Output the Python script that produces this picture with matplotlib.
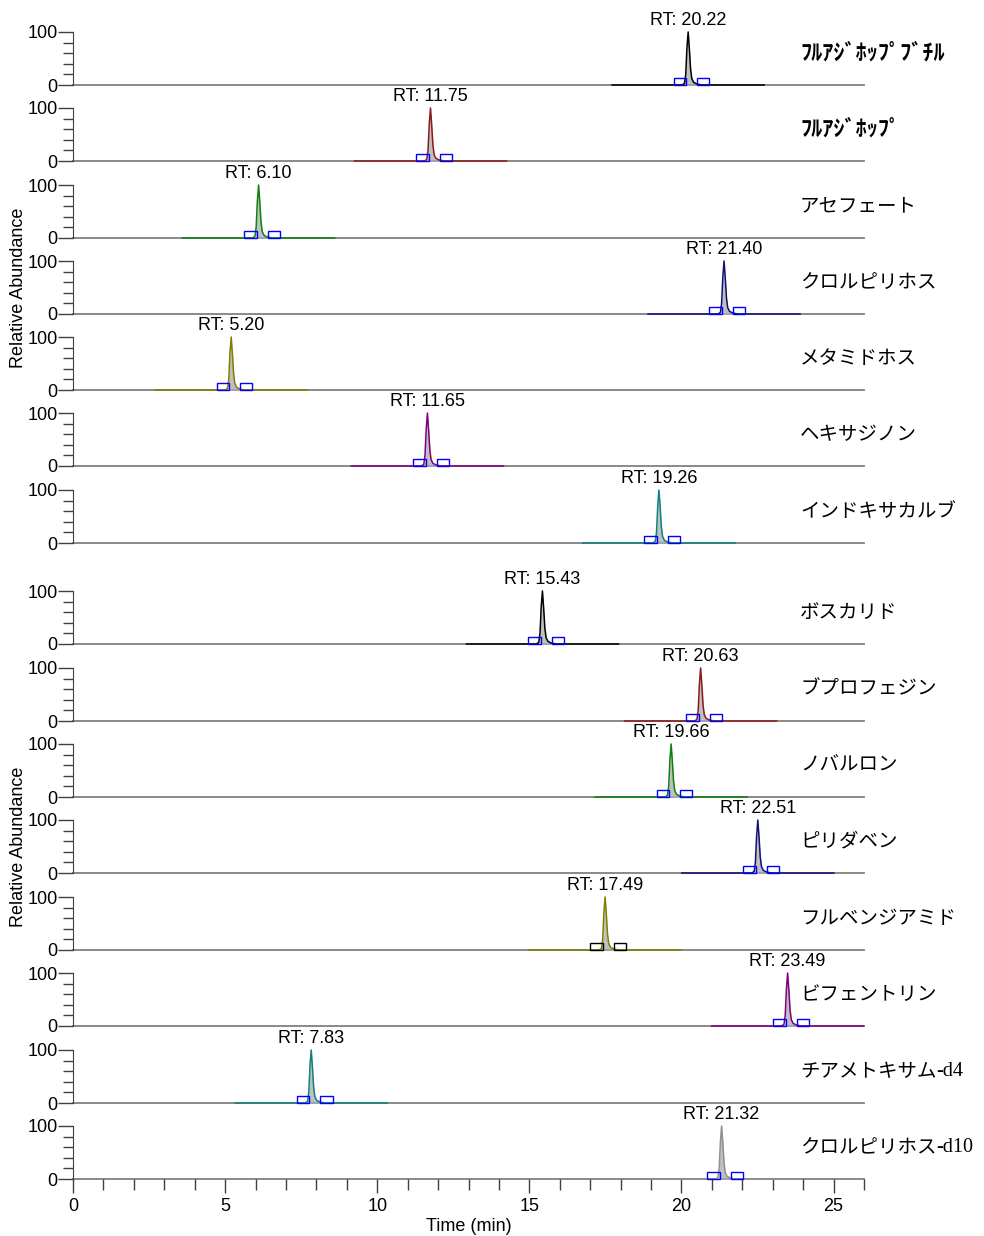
import matplotlib
matplotlib.use("Agg")
import matplotlib.pyplot as plt
from matplotlib.patches import Rectangle
from matplotlib.ticker import MultipleLocator

# ---------------------------------------------------------------------------
# Data
# ---------------------------------------------------------------------------
compounds = [
    "ﾌﾙｱｼﾞﾎｯﾌﾟﾌﾞﾁﾙ", "ﾌﾙｱｼﾞﾎｯﾌﾟ", "アセフェート", "クロルピリホス", "メタミドホス",
    "ヘキサジノン", "インドキサカルブ",
    "ボスカリド", "ブプロフェジン", "ノバルロン", "ピリダベン", "フルベンジアミド",
    "ビフェントリン", "チアメトキサム", "クロルピリホス",
]
suffixes = ["", "", "", "", "", "", "", "", "", "", "", "", "", "-d4", "-d10"]
retention_times = [20.22, 11.75, 6.10, 21.40, 5.20, 11.65, 19.26,
                   15.43, 20.63, 19.66, 22.51, 17.49, 23.49, 7.83, 21.32]
trace_colors = ["#000000", "#8b1a1a", "#108010", "#10107a", "#808000", "#800080", "#108080",
                "#000000", "#8b1a1a", "#108010", "#10107a", "#808000", "#800080", "#108080", "#909090"]
box_colors = ["#0000ff"] * 11 + ["#000000"] + ["#0000ff"] * 3

# common peak profile: offset from RT (min) -> relative abundance (%)
peak_offsets = [-0.20, -0.12, -0.08, -0.04, 0.0, 0.04, 0.08, 0.12, 0.18, 0.28, 0.45]
peak_heights = [0, 3, 20, 70, 100, 68, 30, 12, 5, 2, 0]
window_half = 2.5          # trace is recorded RT +/- 2.5 min
box_left = (-0.48, -0.06)  # integration markers relative to RT
box_right = (0.30, 0.70)
box_height = 14

# panel layout in pixels (top of 100 tick)
panel_tops = [32, 108, 185, 261, 337, 413, 490, 591, 668, 744, 820, 897, 973, 1050, 1126]
panel_h = 53
W, H = 984, 1236
x_left, x_right = 73, 864

plt.rcParams['font.family'] = ['Liberation Sans', 'DejaVu Sans']

fig = plt.figure(figsize=(W / 100, H / 100), dpi=100)
axes = []
for i, top in enumerate(panel_tops):
    ax = fig.add_axes([x_left / W, 1 - (top + panel_h) / H,
                       (x_right - x_left) / W, panel_h / H])
    axes.append(ax)
    rt = retention_times[i]
    col = trace_colors[i]

    xs = [max(rt - window_half, 0)] + [rt + o for o in peak_offsets] + [min(rt + window_half, 26)]
    ys = [0] + peak_heights + [0]
    ax.fill_between([rt + o for o in peak_offsets], peak_heights, 0,
                    color="#c0c0c0", lw=0, zorder=2)
    ax.plot(xs, ys, color=col, lw=1.1, zorder=3, clip_on=False)

    bc = box_colors[i]
    for a, b in (box_left, box_right):
        ax.add_patch(Rectangle((rt + a, 0), b - a, box_height, fill=False,
                               ec=bc, lw=1.0, zorder=4, clip_on=False))
    ax.plot([rt + box_left[1], rt + box_right[0]], [0.5, 0.5], color=bc, lw=1.0, zorder=4)

    ax.annotate(f"RT: {rt:.2f}", xy=(rt, 100), xytext=(0, 2), textcoords="offset points",
                ha="center", va="bottom", fontsize=13, annotation_clip=False)

    ax.set_xlim(0, 26)
    ax.set_ylim(0, 100)
    ax.patch.set_visible(False)
    for s in ("top", "right"):
        ax.spines[s].set_visible(False)
    ax.spines["left"].set_color("#404040")
    ax.spines["bottom"].set_color("#808080")
    ax.spines["bottom"].set_linewidth(1.3)
    ax.spines["bottom"].set_zorder(1)
    ax.set_yticks([0, 100])
    ax.set_yticklabels(["0", "100"], fontsize=13)
    ax.yaxis.set_minor_locator(MultipleLocator(20))
    ax.tick_params(axis="y", which="major", length=11, width=1, color="#404040", pad=0)
    ax.tick_params(axis="y", which="minor", length=7, width=1, color="#404040")

    if i == len(panel_tops) - 1:
        ax.set_xticks([0, 5, 10, 15, 20, 25])
        ax.xaxis.set_minor_locator(MultipleLocator(1))
        ax.tick_params(axis="x", which="major", length=10, width=1, color="#404040",
                       labelsize=13, pad=4)
        ax.tick_params(axis="x", which="minor", length=8, width=1, color="#404040")
        ax.set_xlabel("Time (min)", fontsize=13, labelpad=2)
    else:
        ax.set_xticks([])

    ja_kw = dict(fontsize=14, family=['Noto Sans CJK JP', 'DejaVu Sans'])
    if i < 2:
        ja_kw = dict(fontsize=16, fontweight="bold", family=['Noto Sans CJK JP', 'DejaVu Sans'])
    ax.text((800 - x_left) / (x_right - x_left), 0.6, compounds[i],
            transform=ax.transAxes, ha="left", va="center", **ja_kw)

# y labels, each centred on a group of seven panels
for top_first, top_last in ((panel_tops[0], panel_tops[6]), (panel_tops[7], panel_tops[13])):
    yc = ((top_first + top_last + panel_h) / 2)
    fig.text(19 / W, 1 - yc / H, "Relative Abundance", rotation=90,
             ha="center", va="center", fontsize=13)

# serif suffixes after the Japanese names
fig.canvas.draw()
renderer = fig.canvas.get_renderer()
for i, ax in enumerate(axes):
    if not suffixes[i]:
        continue
    t = ax.texts[-1]
    bb = t.get_window_extent(renderer)
    fig.text(bb.x1 / W, (bb.y0 + bb.y1) / 2 / H, suffixes[i], ha="left", va="center",
             fontsize=14.5, family="Liberation Serif")

fig.savefig("out.png", dpi=100)
